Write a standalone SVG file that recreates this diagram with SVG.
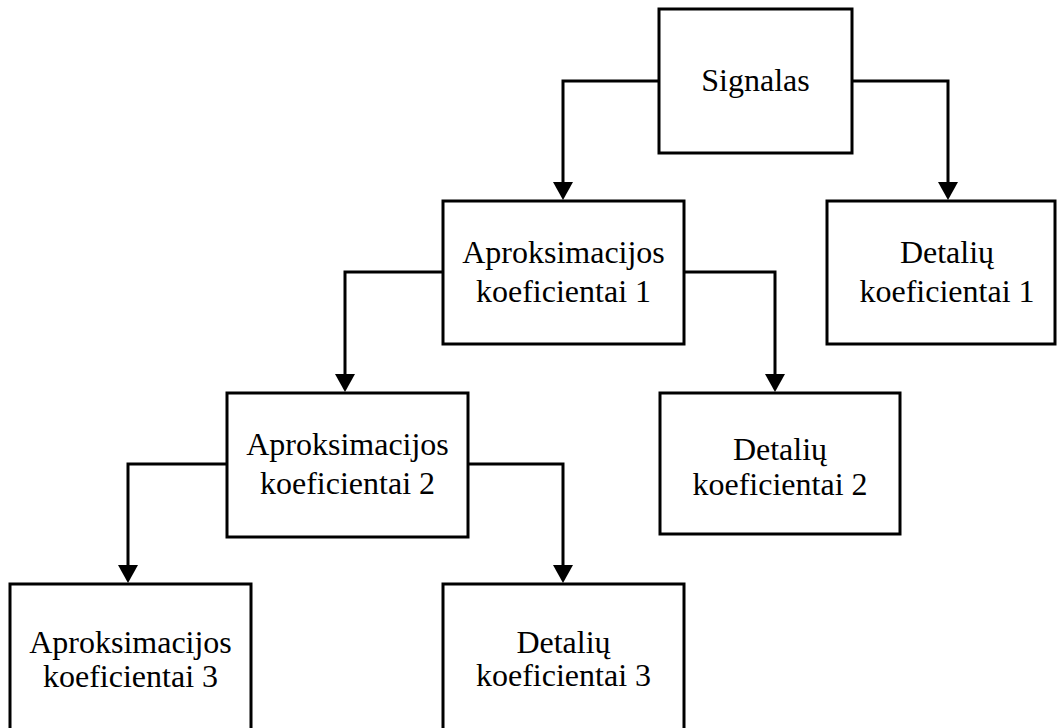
<svg xmlns="http://www.w3.org/2000/svg" width="1057" height="728" viewBox="0 0 1057 728">
<style>
.box{fill:#fff;stroke:#000;stroke-width:3}
.t{font-family:"Liberation Serif","Times New Roman",serif;font-size:32px;fill:#000;text-anchor:middle}
.c{fill:none;stroke:#000;stroke-width:3}
</style>
<defs>
<marker id="ah" markerUnits="userSpaceOnUse" markerWidth="18" markerHeight="20" refX="0" refY="10" orient="auto" viewBox="0 0 18 20">
<path d="M0,0 L18,10 L0,20 z" fill="#000"/>
</marker>
</defs>
<rect width="1057" height="728" fill="#fff"/>
<g id="connectors">
<path class="c" d="M659,81 H563 V182" marker-end="url(#ah)"/>
<path class="c" d="M852,81 H948 V182" marker-end="url(#ah)"/>
<path class="c" d="M443,272 H345 V374" marker-end="url(#ah)"/>
<path class="c" d="M684,272 H775 V374" marker-end="url(#ah)"/>
<path class="c" d="M227,464 H128 V565" marker-end="url(#ah)"/>
<path class="c" d="M467,464 H563 V565" marker-end="url(#ah)"/>
</g>
<g id="signalas">
<rect class="box" x="659" y="9" width="193" height="144"/>
<text class="t" x="755.5" y="91">Signalas</text>
</g>
<g id="aprox1">
<rect class="box" x="443" y="201" width="241" height="143"/>
<text class="t" x="563.5" y="263">Aproksimacijos</text>
<text class="t" x="563.5" y="302">koeficientai 1</text>
</g>
<g id="detal1">
<rect class="box" x="827" y="201" width="228" height="143"/>
<text class="t" x="947" y="263">Detalių</text>
<text class="t" x="947" y="302">koeficientai 1</text>
</g>
<g id="aprox2">
<rect class="box" x="227" y="393" width="241" height="144"/>
<text class="t" x="347.5" y="455">Aproksimacijos</text>
<text class="t" x="347.5" y="494">koeficientai 2</text>
</g>
<g id="detal2">
<rect class="box" x="660" y="393" width="240" height="141"/>
<text class="t" x="780" y="460">Detalių</text>
<text class="t" x="780" y="495">koeficientai 2</text>
</g>
<g id="aprox3">
<rect class="box" x="10" y="584" width="241" height="150"/>
<text class="t" x="130.5" y="653">Aproksimacijos</text>
<text class="t" x="130.5" y="687">koeficientai 3</text>
</g>
<g id="detal3">
<rect class="box" x="443" y="584" width="241" height="150"/>
<text class="t" x="563.5" y="653">Detalių</text>
<text class="t" x="563.5" y="686">koeficientai 3</text>
</g>
</svg>
